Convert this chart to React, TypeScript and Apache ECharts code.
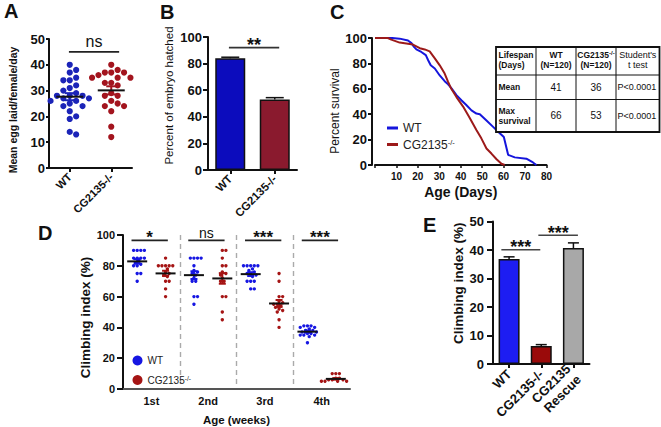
import React, { useEffect, useRef } from 'react';
import * as echarts from 'echarts';

const FONT = '"Liberation Sans", Arial, Helvetica, sans-serif';

// ---------- Panel A: eggs laid ----------
const A_CATEGORIES = ['WT', 'CG2135-/-'];
const A_WT = [40, 38, 37, 35, 34, 34, 32, 31, 30, 29, 28, 28, 28, 27, 27, 26, 26, 25, 24, 24, 22, 20, 19, 14, 13];
const A_CG = [40, 38, 37, 37, 37, 36, 35, 35, 35, 33, 33, 32, 29, 28, 28, 26, 25, 24, 24, 22, 16, 12];

// ---------- Panel B: hatching ----------
const B_CATEGORIES = ['WT', 'CG2135-/-'];
const B_MEANS = [84, 53];
const B_SEM = [0.8, 1.4];

// ---------- Panel C: survival ----------
const C_WT_DAYS = [0, 8, 11.5, 15.4, 17, 18.2, 19.3, 21.6, 23.7, 24.8, 26, 27.9, 30.2, 32.5, 34.1, 35.6, 38, 40.3, 42.7, 45, 47.3, 48.9, 52, 55.1, 58.2, 60.1, 62.1, 65.2, 70.6, 73.7, 75.3];
const C_WT_SURV = [100, 100, 99.5, 98, 96, 93, 91, 89, 86.5, 82.5, 78.5, 76, 70.5, 66, 63.5, 60.5, 55, 51, 47, 43, 40.5, 40, 35, 30, 25, 22, 8, 6, 5, 2, 0];
const C_CG_DAYS = [0, 6, 7.6, 11.5, 15.4, 17.7, 20.9, 23.2, 25.5, 27.9, 30.2, 32.5, 34.1, 35.6, 38, 41.1, 44.2, 47.3, 49.6, 52, 54.3, 56.7, 59, 60.5];
const C_CG_SURV = [100, 100, 98.7, 96.4, 95.5, 94.8, 92, 91, 89.5, 84, 78.5, 72, 65.5, 60, 53.5, 46, 37, 27.5, 21, 13, 9, 4.5, 1, 0];
const C_TABLE_HEAD = ['Lifespan\n(Days)', 'WT\n(N=120)', 'CG2135-/-\n(N=120)', "Student's\nt test"];
const C_TABLE_ROWS = [
  ['Mean', '41', '36', 'P<0.0001'],
  ['Max\nsurvival', '66', '53', 'P<0.0001'],
];

// ---------- Panel D: climbing by week ----------
const D_CATEGORIES = ['1st', '2nd', '3rd', '4th'];
const D_WT = [
  [90, 90, 90, 90, 85, 85, 85, 85, 83, 82, 81, 80, 80, 75, 75, 70],
  [85, 85, 85, 85, 80, 77, 76, 75, 74, 72, 70, 70, 60, 60, 55],
  [80, 80, 80, 80, 80, 78, 77, 76, 75, 75, 74, 73, 70, 70, 70, 65, 65],
  [41, 41, 41, 40, 40, 39, 38, 38, 37, 37, 36, 36, 35, 35, 35, 34, 30],
];
const D_CG = [
  [85, 80, 80, 80, 80, 80, 78, 76, 75, 74, 73, 70, 70, 65, 60],
  [90, 90, 85, 80, 80, 76, 75, 74, 72, 70, 70, 60, 60, 50, 45],
  [75, 70, 60, 60, 57, 56, 55, 55, 54, 53, 52, 51, 50, 45, 40],
  [10, 10, 10, 7, 7, 6, 6, 6, 5, 5, 5, 5, 5, 5],
];

// ---------- Panel E: climbing rescue ----------
const E_CATEGORIES = ['WT', 'CG2135-/-', 'CG2135\nRescue'];
const E_MEANS = [36.8, 6.3, 40.7];
const E_SEM = [0.8, 0.5, 1.8];

// significance annotations (x extents in category units, y in data units)
const SIG_A = [{ from: -0.02, to: 1.19, y: 45, text: 'ns' }];
const SIG_B = [{ from: -0.03, to: 1.1, y: 92, text: '**' }];
const SIG_D = [
  { from: -0.35, to: 0.29, y: 96.5, text: '*' },
  { from: 0.65, to: 1.29, y: 96.5, text: 'ns' },
  { from: 1.65, to: 2.29, y: 96.5, text: '***' },
  { from: 2.65, to: 3.29, y: 96.5, text: '***' },
];
const SIG_E = [
  { from: -0.24, to: 0.97, y: 40.1, text: '***' },
  { from: 0.91, to: 2.14, y: 45.2, text: '***' },
];

const mean = (a: number[]) => a.reduce((s, v) => s + v, 0) / a.length;
const sem = (a: number[]) => {
  const m = mean(a);
  const v = a.reduce((s, x) => s + (x - m) * (x - m), 0) / (a.length - 1);
  return Math.sqrt(v / a.length);
};

function swarmOffsets(values: number[], yPx: number, xPx: number, diam: number): number[] {
  const order = values.map((_, i) => i).sort((a, b) => values[b] - values[a] || a - b);
  const placed: [number, number][] = [];
  const res = new Array(values.length).fill(0);
  for (const i of order) {
    const y = values[i] * yPx;
    for (let k = 0; k < 400; k++) {
      const step = Math.ceil(k / 2) * diam * 0.5;
      const x = k === 0 ? 0 : k % 2 ? step : -step;
      if (placed.every(([px, py]) => (px - x) * (px - x) + (py - y) * (py - y) >= diam * diam * 0.97)) {
        placed.push([x, y]);
        res[i] = x / xPx;
        break;
      }
    }
  }
  return res;
}

function swarmData(values: number[], center: number, yPx: number, xPx: number, diam: number) {
  const off = swarmOffsets(values, yPx, xPx, diam);
  return values.map((v, i) => [center + off[i], v]);
}

function meanSemSeries(xAxisIndex: number, yAxisIndex: number, groups: { x: number; vals: number[]; color: string }[], halfW: number, cap: number) {
  return {
    type: 'custom',
    xAxisIndex,
    yAxisIndex,
    silent: true,
    z: 8,
    encode: { x: 0, y: 1 },
    data: groups.map((g) => [g.x, mean(g.vals), sem(g.vals)]),
    renderItem: (params: any, api: any) => {
      const g = groups[params.dataIndex];
      const x = api.value(0), m = api.value(1), s = api.value(2);
      const c = api.coord([x, m]);
      const t = api.coord([x, m + s]);
      const b = api.coord([x, m - s]);
      return {
        type: 'group',
        children: [
          { type: 'line', shape: { x1: c[0], y1: t[1], x2: c[0], y2: b[1] }, style: { stroke: g.color, lineWidth: 2 } },
          { type: 'line', shape: { x1: c[0] - cap, y1: t[1], x2: c[0] + cap, y2: t[1] }, style: { stroke: g.color, lineWidth: 2 } },
          { type: 'line', shape: { x1: c[0] - cap, y1: b[1], x2: c[0] + cap, y2: b[1] }, style: { stroke: g.color, lineWidth: 2 } },
          { type: 'line', shape: { x1: c[0] - halfW, y1: c[1], x2: c[0] + halfW, y2: c[1] }, style: { stroke: '#111', lineWidth: 2 } },
        ],
      };
    },
  };
}

function errSeries(xAxisIndex: number, yAxisIndex: number, means: number[], sems: number[], cap: number) {
  return {
    type: 'custom',
    xAxisIndex,
    yAxisIndex,
    silent: true,
    z: 1,
    encode: { x: 0, y: 1 },
    data: means.map((m, i) => [i, m, sems[i]]),
    renderItem: (params: any, api: any) => {
      const x = api.value(0), m = api.value(1), s = api.value(2);
      const b = api.coord([x, m]);
      const t = api.coord([x, m + s]);
      return {
        type: 'group',
        children: [
          { type: 'line', shape: { x1: b[0], y1: b[1], x2: b[0], y2: t[1] }, style: { stroke: '#111', lineWidth: 1.5 } },
          { type: 'line', shape: { x1: b[0] - cap, y1: t[1], x2: b[0] + cap, y2: t[1] }, style: { stroke: '#111', lineWidth: 1.5 } },
        ],
      };
    },
  };
}

function sigSeries(xAxisIndex: number, yAxisIndex: number, items: { from: number; to: number; y: number; text: string }[], starFont: number, nsFont: number, nsGap: number, lineColor: string) {
  return {
    type: 'custom',
    xAxisIndex,
    yAxisIndex,
    silent: true,
    z: 9,
    encode: { x: [0, 2], y: 1 },
    data: items.map((s) => [s.from, s.y, s.to]),
    renderItem: (params: any, api: any) => {
      const s = items[params.dataIndex];
      const p0 = api.coord([api.value(0), api.value(1)]);
      const p1 = api.coord([api.value(2), api.value(1)]);
      const star = s.text.charAt(0) === '*';
      return {
        type: 'group',
        children: [
          { type: 'line', shape: { x1: p0[0], y1: p0[1], x2: p1[0], y2: p1[1] }, style: { stroke: lineColor, lineWidth: 1.6 } },
          {
            type: 'text',
            x: (p0[0] + p1[0]) / 2,
            y: p0[1] - (star ? 2.5 : nsGap),
            style: {
              text: s.text,
              fill: '#111',
              font: star ? `bold ${starFont}px ${FONT}` : `${nsFont}px ${FONT}`,
              align: 'center',
              verticalAlign: 'middle',
            },
          },
        ],
      };
    },
  };
}

const axisLineBlack = { show: true, onZero: false, lineStyle: { color: '#111', width: 2 } };

// shift > 0 moves the rotated name down the page, < 0 moves it up
function yValueAxis(gridIndex: number, max: number, interval: number, name: string, nameGap: number, nameSize: number, nameBold: boolean, labelSize: number, margin: number, tickLen: number, shift: number, offset = 0) {
  const pad = shift > 0 ? [0, shift * 2, 0, 0] : [0, 0, 0, -shift * 2];
  return {
    type: 'value',
    gridIndex,
    min: 0,
    max,
    interval,
    offset,
    name,
    nameLocation: 'middle',
    nameGap,
    nameRotate: 90,
    nameTextStyle: { fontSize: nameSize, fontWeight: nameBold ? 'bold' : 'normal', fontFamily: FONT, color: '#111', padding: pad },
    axisLine: axisLineBlack,
    axisTick: { show: true, inside: false, length: tickLen, lineStyle: { color: '#111', width: 2 } },
    axisLabel: { fontSize: labelSize, fontWeight: 'bold', color: '#111', margin, fontFamily: FONT },
    splitLine: { show: false },
  };
}

function hiddenX(gridIndex: number, n: number) {
  return { type: 'value', gridIndex, min: -0.5, max: n - 0.5, show: false, axisLine: { onZero: false }, splitLine: { show: false } };
}

function catX(gridIndex: number, data: string[], labelSize: number, rotate: number, margin: number, ticks: boolean) {
  return {
    type: 'category',
    gridIndex,
    data,
    axisLine: axisLineBlack,
    axisTick: { show: ticks, alignWithLabel: true, length: 4, lineStyle: { color: '#111', width: 2 } },
    axisLabel: { fontSize: labelSize, fontWeight: 'bold', color: '#111', rotate, margin, interval: 0, fontFamily: FONT, lineHeight: labelSize + 2 },
    splitLine: { show: false },
  };
}

const LEG_NAMES: Record<string, string> = { C_WT: 'WT', C_CG: 'CG2135', D_WT: 'WT', D_CG: 'CG2135' };

function buildTable() {
  const xs = [496, 536, 576, 616, 659.5];
  const ys = [47, 75, 99.5, 132];
  const els: any[] = [];
  els.push({ type: 'rect', shape: { x: xs[0], y: ys[0], width: xs[4] - xs[0], height: ys[3] - ys[0] }, style: { fill: '#fff', stroke: '#111', lineWidth: 1.8 }, z: 20 });
  for (let i = 1; i < 4; i++) els.push({ type: 'line', shape: { x1: xs[i], y1: ys[0], x2: xs[i], y2: ys[3] }, style: { stroke: '#111', lineWidth: 1 }, z: 21 });
  for (let j = 1; j < 3; j++) els.push({ type: 'line', shape: { x1: xs[0], y1: ys[j], x2: xs[4], y2: ys[j] }, style: { stroke: '#111', lineWidth: 1 }, z: 21 });
  const rows = [C_TABLE_HEAD, ...C_TABLE_ROWS];
  const rich = {
    b: { fontFamily: FONT, fontSize: 8.5, fontWeight: 'bold', fill: '#111', lineHeight: 10 },
    r: { fontFamily: FONT, fontSize: 9, fill: '#111', lineHeight: 10 },
    n: { fontFamily: FONT, fontSize: 10, fill: '#111', lineHeight: 11 },
    s: { fontFamily: FONT, fontSize: 6, fontWeight: 'bold', fill: '#111', verticalAlign: 'top', lineHeight: 10 },
  };
  rows.forEach((row, r) => {
    row.forEach((cell, c) => {
      const lines = cell.split('\n');
      let styleKey = 'r';
      if (c === 0 || (r === 0 && c < 3)) styleKey = 'b';
      else if (r > 0 && (c === 1 || c === 2)) styleKey = 'n';
      const text = lines
        .map((ln) => {
          const m = ln.match(/^(.*?)(-\/-)$/);
          if (m) return `{${styleKey}|${m[1]}}{s|${m[2]}}`;
          return `{${styleKey}|${ln}}`;
        })
        .join('\n');
      const left = c === 0 || (r > 0 && c === 3);
      const x = left ? xs[c] + (c === 3 ? 1.5 : 2.5) : (xs[c] + xs[c + 1]) / 2;
      const y = (ys[r] + ys[r + 1]) / 2 + (r === 0 ? -1.5 : 0);
      els.push({ type: 'text', x, y, z: 22, style: { text, rich, align: left ? 'left' : 'center', verticalAlign: 'middle' } });
    });
  });
  return els;
}

function letter(t: string, x: number, y: number) {
  return { type: 'text', x, y, style: { text: t, font: `bold 20px ${FONT}`, fill: '#111', align: 'left', verticalAlign: 'middle' } };
}

export default function App() {
  const ref = useRef<HTMLDivElement>(null);
  useEffect(() => {
    if (!ref.current) return;
    const chart = echarts.init(ref.current, undefined, { renderer: 'svg' });

    const blueA = '#1b24b8', redA = '#a3141e';
    const blueD = '#1616e2', redD = '#a51414';

    const aY = 129 / 50, aX = 83 / 2;
    const dY = 154 / 100, dX = 227 / 4;

    const dScatterWT = D_WT.flatMap((vals, i) => swarmData(vals, i - 0.25, dY, dX, 3.6));
    const dScatterCG = D_CG.flatMap((vals, i) => swarmData(vals, i + 0.25, dY, dX, 3.6));

    const legendRich = {
      t: { fontFamily: FONT, fontSize: 12, color: '#222' },
      s: { fontFamily: FONT, fontSize: 7.5, color: '#222', verticalAlign: 'top' },
      dt: { fontFamily: FONT, fontSize: 10, color: '#222' },
      ds: { fontFamily: FONT, fontSize: 6.5, color: '#222', verticalAlign: 'top' },
    };

    const option: any = {
      animation: false,
      backgroundColor: '#fff',
      textStyle: { fontFamily: FONT },
      grid: [
        { left: 49, top: 39, width: 83, height: 129 },
        { left: 208, top: 37, width: 89, height: 133 },
        { left: 375, top: 38, width: 171.5, height: 127 },
        { left: 123, top: 235, width: 227, height: 154 },
        { left: 493, top: 221.5, width: 96.5, height: 142.5 },
      ],
      xAxis: [
        catX(0, A_CATEGORIES, 11, 45, 7, true),
        hiddenX(0, 2),
        catX(1, B_CATEGORIES, 11.5, 45, 7, true),
        hiddenX(1, 2),
        {
          type: 'value', gridIndex: 2, min: 0, max: 80, interval: 10,
          name: 'Age (Days)', nameLocation: 'middle', nameGap: 20,
          nameTextStyle: { fontSize: 14, fontWeight: 'bold', fontFamily: FONT, color: '#111' },
          axisLine: axisLineBlack,
          axisTick: { show: true, length: 3, lineStyle: { color: '#111', width: 1.5 } },
          axisLabel: { fontSize: 10, fontWeight: 'bold', color: '#111', margin: 6, formatter: (v: number) => (v === 0 ? '' : String(v)) },
          splitLine: { show: false },
        },
        {
          type: 'category', gridIndex: 3, data: D_CATEGORIES,
          name: 'Age (weeks)', nameLocation: 'middle', nameGap: 25,
          nameTextStyle: { fontSize: 11.5, fontWeight: 'bold', fontFamily: FONT, color: '#111' },
          axisLine: { show: true, onZero: false, lineStyle: { color: '#555', width: 2 } },
          axisTick: { show: false },
          axisLabel: { fontSize: 11, fontWeight: 'bold', color: '#111', margin: 6 },
          splitLine: { show: true, showMinLine: false, showMaxLine: false, lineStyle: { color: '#aaa', width: 1.4, type: [5, 4] } },
        },
        hiddenX(3, 4),
        catX(4, E_CATEGORIES, 13, 45, 8, true),
        hiddenX(4, 3),
      ],
      yAxis: [
        yValueAxis(0, 50, 10, 'Mean egg laid/female/day', 31, 10.5, true, 13, 4, 3, 6.5),
        yValueAxis(1, 100, 20, 'Percent of embryo hatched', 33, 11.5, false, 13, 6, 5, -8),
        yValueAxis(2, 100, 20, 'Percent survival', 29, 12, false, 13, 5, 4, 9.5, 3),
        yValueAxis(3, 100, 20, 'Climbing index (%)', 27, 13.5, true, 11, 8, 6, 5.5),
        yValueAxis(4, 50, 10, 'Climbing index (%)', 24, 13.5, true, 13, 9, 6, -9.5),
      ],
      legend: [
        {
          left: 382, top: 117, orient: 'vertical', itemWidth: 11, itemHeight: 3, itemGap: 4.5,
          data: [{ name: 'C_WT', icon: 'rect' }, { name: 'C_CG', icon: 'rect' }],
          formatter: (n: string) => (n === 'C_CG' ? `{t|${LEG_NAMES[n]}}{s|-/-}` : `{t|${LEG_NAMES[n]}}`),
          textStyle: { rich: legendRich },
          selectedMode: false,
        },
        {
          left: 127.5, top: 350.5, orient: 'vertical', itemWidth: 10, itemHeight: 10, itemGap: 9.5,
          data: [{ name: 'D_WT', icon: 'circle' }, { name: 'D_CG', icon: 'circle' }],
          formatter: (n: string) => (n === 'D_CG' ? `{dt|${LEG_NAMES[n]}}{ds|-/-}` : `{dt|${LEG_NAMES[n]}}`),
          textStyle: { rich: legendRich },
          selectedMode: false,
        },
      ],
      graphic: [
        letter('A', 4, 11),
        letter('B', 160, 11.5),
        letter('C', 330, 11.5),
        letter('D', 38, 232.5),
        letter('E', 423, 225),
        ...buildTable(),
      ],
      series: [
        // A
        { type: 'scatter', name: 'A_WT', xAxisIndex: 1, yAxisIndex: 0, symbolSize: 6.2, itemStyle: { color: blueA, opacity: 1 }, data: swarmData(A_WT, 0, aY, aX, 6.4) },
        { type: 'scatter', name: 'A_CG', xAxisIndex: 1, yAxisIndex: 0, symbolSize: 6.2, itemStyle: { color: redA, opacity: 1 }, data: swarmData(A_CG, 1, aY, aX, 6.4) },
        meanSemSeries(1, 0, [{ x: 0, vals: A_WT, color: blueA }, { x: 1, vals: A_CG, color: redA }], 13.5, 5),
        sigSeries(1, 0, SIG_A, 17, 16, 10.5, '#222'),
        // B
        {
          type: 'bar', name: 'B', xAxisIndex: 2, yAxisIndex: 1, barWidth: 30,
          data: B_MEANS.map((v, i) => ({ value: v, itemStyle: { color: i === 0 ? '#0c0cbd' : '#8a1a2e', borderColor: '#111', borderWidth: 1.5 } })),
        },
        errSeries(3, 1, B_MEANS, B_SEM, 9),
        sigSeries(3, 1, SIG_B, 18, 16, 10, '#333'),
        // C
        { type: 'line', name: 'C_WT', xAxisIndex: 4, yAxisIndex: 2, symbol: 'none', color: '#1515dc', lineStyle: { width: 2, color: '#1515dc' }, data: C_WT_DAYS.map((d, i) => [d, C_WT_SURV[i]]) },
        { type: 'line', name: 'C_CG', xAxisIndex: 4, yAxisIndex: 2, symbol: 'none', color: '#9c1a1a', lineStyle: { width: 2, color: '#9c1a1a' }, data: C_CG_DAYS.map((d, i) => [d, C_CG_SURV[i]]) },
        // D
        { type: 'scatter', name: 'D_WT', xAxisIndex: 6, yAxisIndex: 3, symbolSize: 3.4, itemStyle: { color: blueD, opacity: 1 }, data: dScatterWT },
        { type: 'scatter', name: 'D_CG', xAxisIndex: 6, yAxisIndex: 3, symbolSize: 3.4, itemStyle: { color: redD, opacity: 1 }, data: dScatterCG },
        meanSemSeries(6, 3, [
          ...D_WT.map((vals, i) => ({ x: i - 0.25, vals, color: blueD })),
          ...D_CG.map((vals, i) => ({ x: i + 0.25, vals, color: redD })),
        ], 10, 3.5),
        sigSeries(6, 3, SIG_D, 17, 14, 7.5, '#222'),
        // E
        {
          type: 'bar', name: 'E', xAxisIndex: 7, yAxisIndex: 4, barWidth: 21,
          data: E_MEANS.map((v, i) => ({ value: v, itemStyle: { color: ['#1d1df2', '#9a0a0a', '#a8a8a8'][i], borderColor: '#111', borderWidth: 1.5 } })),
        },
        errSeries(8, 4, E_MEANS, E_SEM, 5.5),
        sigSeries(8, 4, SIG_E, 18, 16, 10, '#444'),
      ],
    };

    chart.setOption(option);
    return () => chart.dispose();
  }, []);

  return <div ref={ref} style={{ position: 'absolute', left: 0, top: 0, width: 661, height: 427 }} />;
}
